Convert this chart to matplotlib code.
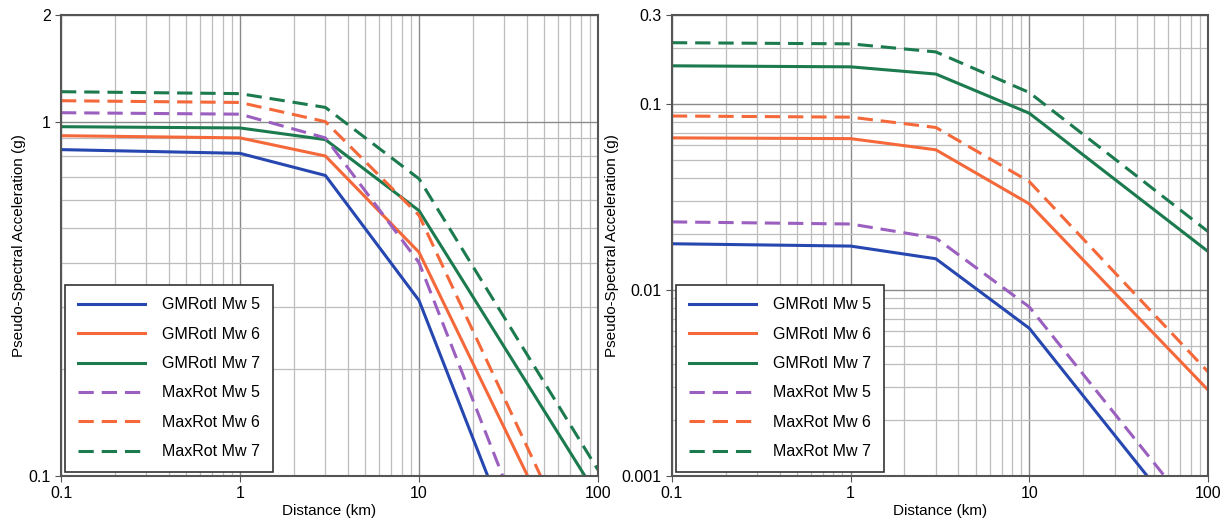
import matplotlib.pyplot as plt
from matplotlib.ticker import FixedLocator, FixedFormatter, LogLocator, NullFormatter

plt.rcParams['font.family'] = ['Liberation Sans', 'DejaVu Sans']

# distances (km)
dist = [0.1, 1, 3, 10, 100]

# left panel (g)
left_gm5 = [0.834, 0.814, 0.705, 0.313, 0.016]
left_gm6 = [0.913, 0.900, 0.800, 0.428, 0.039]
left_gm7 = [0.968, 0.960, 0.890, 0.561, 0.0873]
left_mx5 = [1.06, 1.05, 0.90, 0.40, 0.0206]
left_mx6 = [1.146, 1.133, 1.00, 0.544, 0.045]
left_mx7 = [1.215, 1.20, 1.097, 0.69, 0.104]

# right panel (g)
right_gm5 = [0.0177, 0.0172, 0.0147, 0.00622, 0.00039]
right_gm6 = [0.0656, 0.0650, 0.0566, 0.029, 0.0029]
right_gm7 = [0.160, 0.158, 0.1445, 0.089, 0.0161]
right_mx5 = [0.0232, 0.0226, 0.019, 0.0081, 0.00051]
right_mx6 = [0.086, 0.0848, 0.0746, 0.0382, 0.00363]
right_mx7 = [0.213, 0.21, 0.19, 0.115, 0.0206]

labels = ['GMRotI Mw 5', 'GMRotI Mw 6', 'GMRotI Mw 7',
          'MaxRot Mw 5', 'MaxRot Mw 6', 'MaxRot Mw 7']
colors = ['#2747b0', '#f4683a', '#1b7a4e', '#9b5fc0', '#f4683a', '#1b7a4e']
styles = ['-', '-', '-', '--', '--', '--']

left_ticks = [0.1, 1, 2]
right_ticks = [0.001, 0.01, 0.1, 0.3]
x_ticks = [0.1, 1, 10, 100]

fig = plt.figure(figsize=(12.3, 5.25), dpi=100)
ax1 = fig.add_axes([0.0496, 0.0933, 0.4366, 0.8781])
ax2 = fig.add_axes([0.5463, 0.0933, 0.4358, 0.8781])


def draw(ax, series, ylim, yticks):
    for vals, c, ls, lab in zip(series, colors, styles, labels):
        if ls == '--':
            ax.plot(dist, vals, color=c, ls=ls, lw=2.2, label=lab, dashes=(5, 2.6))
        else:
            ax.plot(dist, vals, color=c, ls=ls, lw=2.2, label=lab)
    ax.set_xscale('log')
    ax.set_yscale('log')
    ax.set_xlim(0.1, 100)
    ax.set_ylim(*ylim)
    ax.xaxis.set_major_locator(FixedLocator(x_ticks))
    ax.xaxis.set_major_formatter(FixedFormatter(['0.1', '1', '10', '100']))
    ax.xaxis.set_minor_locator(LogLocator(base=10, subs=range(2, 10)))
    ax.xaxis.set_minor_formatter(NullFormatter())
    ax.yaxis.set_major_locator(FixedLocator(yticks))
    ax.yaxis.set_major_formatter(FixedFormatter([('%g' % t) for t in yticks]))
    ax.yaxis.set_minor_locator(LogLocator(base=10, subs=range(2, 10)))
    ax.yaxis.set_minor_formatter(NullFormatter())
    ax.grid(True, which='major', color='#8a8a8a', lw=1.0)
    ax.grid(True, which='minor', color='#bdbdbd', lw=0.9)
    ax.set_axisbelow(True)
    ax.tick_params(which='major', length=4, width=0.8, color='#555555', labelsize=11.5)
    ax.tick_params(which='minor', length=0)
    for s in ax.spines.values():
        s.set_color('#555555')
        s.set_linewidth(1.5)
    ax.set_xlabel('Distance (km)', fontsize=11, labelpad=2)
    ax.set_ylabel('Pseudo-Spectral Acceleration (g)', fontsize=11, labelpad=2)
    leg = ax.legend(loc='lower left', fontsize=11.5, handlelength=4.2, labelspacing=0.9,
                    borderpad=0.8, handletextpad=1.1, fancybox=False, framealpha=1,
                    edgecolor='#333333', borderaxespad=0.25)
    leg.get_frame().set_linewidth(1.2)


draw(ax1, [left_gm5, left_gm6, left_gm7, left_mx5, left_mx6, left_mx7], (0.1, 2), left_ticks)
draw(ax2, [right_gm5, right_gm6, right_gm7, right_mx5, right_mx6, right_mx7], (0.001, 0.3), right_ticks)

fig.savefig('out.png', dpi=100)
